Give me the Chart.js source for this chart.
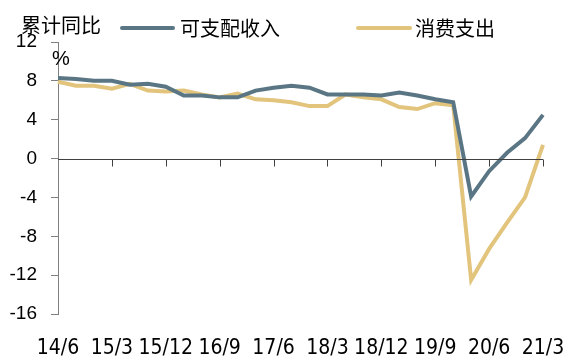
<!DOCTYPE html>
<html lang="zh">
<head>
  <meta charset="UTF-8" />
  <title>累计同比</title>
  <script src="https://cdn.jsdelivr.net/npm/chart.js"></script>
  <style>
    html, body { margin: 0; padding: 0; background: #fff; }
    #wrap { width: 569px; height: 362px; position: relative; }
  </style>
</head>
<body>
  <div id="wrap"><canvas id="chart" width="569" height="362"></canvas></div>

  <script>
    const quarters = ['14/6','14/9','14/12','15/3','15/6','15/9','15/12','16/3','16/6','16/9','16/12',
      '17/3','17/6','17/9','17/12','18/3','18/6','18/9','18/12','19/3','19/6','19/9','19/12',
      '20/3','20/6','20/9','20/12','21/3'];
    const income = [8.3, 8.2, 8.0, 8.0, 7.6, 7.7, 7.4, 6.5, 6.5, 6.3, 6.3,
      7.0, 7.3, 7.5, 7.3, 6.6, 6.6, 6.6, 6.5, 6.8, 6.5, 6.1, 5.8,
      -3.9, -1.3, 0.6, 2.1, 4.5];
    const spending = [7.9, 7.5, 7.5, 7.2, 7.7, 7.0, 6.9, 7.0, 6.6, 6.3, 6.7,
      6.1, 6.0, 5.8, 5.4, 5.4, 6.6, 6.3, 6.1, 5.3, 5.1, 5.7, 5.5,
      -12.5, -9.3, -6.6, -4.0, 1.4];
    const seriesNames = ['可支配收入', '消费支出'];
    const yTicks = [-16, -12, -8, -4, 0, 4, 8, 12];

    const cjk = '"Noto Sans CJK SC", sans-serif';

    // zero line with downward tick marks every 3 quarters, plus legend and unit text
    const decor = {
      id: 'decor',
      afterDatasetsDraw(chart) {
        const { ctx, chartArea, scales } = chart;
        const y0 = Math.round(scales.y.getPixelForValue(0)) + 0.5;
        ctx.save();
        ctx.strokeStyle = '#404040';
        ctx.lineWidth = 1;
        ctx.beginPath();
        ctx.moveTo(chartArea.left, y0);
        ctx.lineTo(chartArea.right, y0);
        for (let i = 3; i < quarters.length; i += 3) {
          const x = Math.round(scales.x.getPixelForValue(i)) + 0.5;
          ctx.moveTo(x, y0);
          ctx.lineTo(x, y0 + 7);
        }
        ctx.stroke();

        ctx.fillStyle = '#000';
        ctx.font = '20px "Liberation Sans", sans-serif';
        ctx.textAlign = 'center';
        ctx.textBaseline = 'middle';
        ctx.fillText('%', 61, 59);

        ctx.font = '20px ' + cjk;
        ctx.textAlign = 'left';
        ctx.fillText('累计同比', 21, 25);

        const items = [{ x0: 122, x1: 173, tx: 180 }, { x0: 358, x1: 410, tx: 415 }];
        chart.data.datasets.forEach((ds, k) => {
          const it = items[k];
          ctx.strokeStyle = ds.borderColor;
          ctx.lineWidth = 4;
          ctx.lineCap = 'round';
          ctx.beginPath();
          ctx.moveTo(it.x0, 28);
          ctx.lineTo(it.x1, 28);
          ctx.stroke();
          ctx.fillText(ds.label, it.tx, 28);
        });
        ctx.restore();
      }
    };

    new Chart(document.getElementById('chart'), {
      type: 'line',
      data: {
        labels: quarters,
        datasets: [
          { label: seriesNames[0], data: income, borderColor: '#5a7684', borderWidth: 4, pointRadius: 0, tension: 0 },
          { label: seriesNames[1], data: spending, borderColor: '#e2c47c', borderWidth: 4, pointRadius: 0, tension: 0 }
        ]
      },
      options: {
        responsive: false,
        animation: false,
        layout: { padding: { top: 42, right: 26, left: 0, bottom: 0 } },
        plugins: { legend: { display: false }, tooltip: { enabled: false } },
        scales: {
          x: {
            offset: false,
            grid: { display: false },
            border: { display: false },
            afterFit: (s) => { s.height = 48; s.paddingLeft = 0; s.paddingRight = 0; },
            ticks: {
              autoSkip: false,
              maxRotation: 0,
              padding: 14,
              color: '#000',
              font: { family: '"Liberation Sans Narrow", "DejaVu Sans Condensed", "Noto Sans CJK SC", sans-serif', size: 21 },
              callback: (v, i) => (i % 3 === 0 ? quarters[i] : '')
            }
          },
          y: {
            min: yTicks[0],
            max: yTicks[yTicks.length - 1],
            afterBuildTicks: (s) => { s.ticks = yTicks.map(v => ({ value: v })); },
            afterFit: (s) => { s.width = 58; },
            grid: { display: true, drawOnChartArea: false, tickLength: 7, color: '#808080' },
            border: { display: true, color: '#808080', width: 1 },
            ticks: {
              padding: 14,
              color: '#000',
              font: { family: '"Liberation Sans", sans-serif', size: 19 }
            }
          }
        }
      },
      plugins: [decor]
    });
  </script>
</body>
</html>
